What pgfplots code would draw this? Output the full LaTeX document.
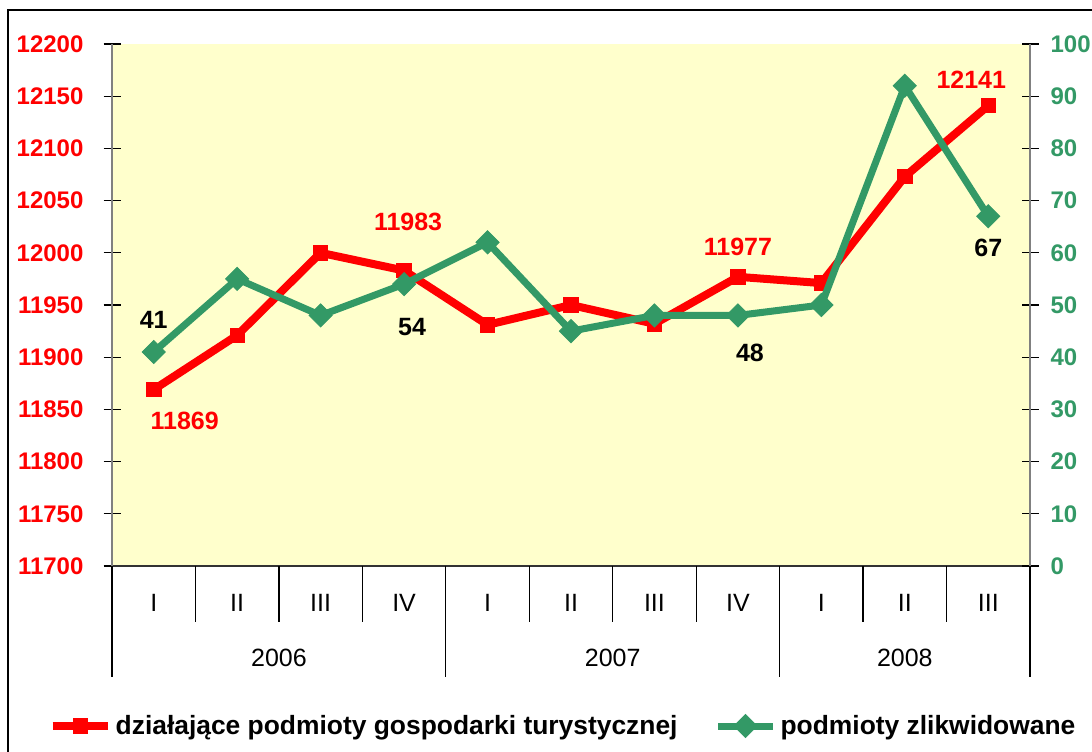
\documentclass[border=0pt]{standalone}
\usepackage{pgfplots}
\pgfplotsset{compat=1.18}
\usepackage{pgfplotstable}
\usepackage{fontspec}
\setmainfont{Liberation Sans}

\definecolor{serred}{HTML}{FF0000}
\definecolor{sergreen}{HTML}{339966}
\definecolor{plotbg}{HTML}{FFFFCC}
\definecolor{axgray}{HTML}{808080}

% quarters 2006 I .. 2008 III, plotted at 0.5, 1.5, ...
\pgfplotstableread{
x    y
0.5  11869
1.5  11921
2.5  12000
3.5  11983
4.5  11931
5.5  11950
6.5  11932
7.5  11977
8.5  11971
9.5  12073
10.5 12141
}\dzialajace

\pgfplotstableread{
x    y
0.5  41
1.5  55
2.5  48
3.5  54
4.5  62
5.5  45
6.5  48
7.5  48
8.5  50
9.5  92
10.5 67
}\zlikwidowane

\newcommand{\tickfont}{\bfseries\fontsize{12}{14}\selectfont}
\newcommand{\lblfont}{\bfseries\fontsize{12.5}{14}\selectfont}
\newcommand{\catfont}{\fontsize{12.5}{14}\selectfont}
\newcommand{\legfont}{\bfseries\fontsize{13.2}{15}\selectfont}

\begin{document}
\begin{tikzpicture}
\useasboundingbox (0,0) rectangle (546pt,375.5pt);
% outer chart frame (cut at right and bottom)
\draw[black, line width=0.8pt] (4pt,-5pt) -- (4pt,370.5pt) -- (560pt,370.5pt);

\pgfplotsset{
  base/.style={
    at={(56pt,92.5pt)}, anchor=south west,
    scale only axis, width=459pt, height=261pt,
    xmin=0, xmax=11, clip=false,
    scaled y ticks=false,
    /pgf/number format/assume math mode=true,
    /pgf/number format/1000 sep={},
    /pgf/number format/fixed,
    tick align=center, major tick length=8.5pt,
    ytick style={black, line width=0.6pt},
    y axis line style={draw=axgray, line width=1pt, -},
  },
}

\begin{axis}[
  base,
  ymin=11700, ymax=12200,
  ytick={11700,11750,...,12200},
  axis background/.style={fill=plotbg},
  axis y line*=left, axis x line*=bottom,
  x axis line style={draw=black!80, line width=0.8pt, -},
  xtick=\empty,
  yticklabel style={text=serred, font=\tickfont, xshift=-6.5pt},
  legend style={at={(0.4924,-0.3065)}, anchor=center, draw=none, fill=none,
    font=\legfont, legend columns=2,
    /tikz/every even column/.append style={column sep=16.5pt}},
  legend cell align=left,
  legend image code/.code={%
    \draw[mark repeat=2, mark phase=2, #1] plot coordinates {(0pt,0pt) (13.75pt,0pt) (27.5pt,0pt)};},
]
\addplot[serred, line width=4pt, mark=square*, mark size=3.6pt,
  mark options={fill=serred, draw=serred, line width=0.4pt}] table[x=x, y=y] {\dzialajace};
\addlegendentry{działające podmioty gospodarki turystycznej}
\addlegendimage{sergreen, line width=3.5pt, mark=square*, mark size=4.1pt,
  mark options={fill=sergreen, draw=sergreen, line width=0.4pt, rotate=45}}
\addlegendentry{podmioty zlikwidowane}

% category separators
\pgfplotsinvokeforeach{0,...,11}{\draw[black, line width=0.6pt] (axis cs:#1,11700) -- ++(0pt,-28pt);}
\pgfplotsinvokeforeach{0,4,8,11}{\draw[black, line width=0.6pt] (axis cs:#1,11700) -- ++(0pt,-55.5pt);}
% quarter labels
\node[font=\catfont] at (axis cs:0.5,11700) [yshift=-18.5pt] {I};
\node[font=\catfont] at (axis cs:1.5,11700) [yshift=-18.5pt] {II};
\node[font=\catfont] at (axis cs:2.5,11700) [yshift=-18.5pt] {III};
\node[font=\catfont] at (axis cs:3.5,11700) [yshift=-18.5pt] {IV};
\node[font=\catfont] at (axis cs:4.5,11700) [yshift=-18.5pt] {I};
\node[font=\catfont] at (axis cs:5.5,11700) [yshift=-18.5pt] {II};
\node[font=\catfont] at (axis cs:6.5,11700) [yshift=-18.5pt] {III};
\node[font=\catfont] at (axis cs:7.5,11700) [yshift=-18.5pt] {IV};
\node[font=\catfont] at (axis cs:8.5,11700) [yshift=-18.5pt] {I};
\node[font=\catfont] at (axis cs:9.5,11700) [yshift=-18.5pt] {II};
\node[font=\catfont] at (axis cs:10.5,11700) [yshift=-18.5pt] {III};
\node[font=\catfont] at (axis cs:2,11700) [yshift=-46pt] {2006};
\node[font=\catfont] at (axis cs:6,11700) [yshift=-46pt] {2007};
\node[font=\catfont] at (axis cs:9.5,11700) [yshift=-46pt] {2008};

% data labels
\node[text=serred, font=\lblfont] at (axis cs:0.5,11869) [xshift=15.5pt, yshift=-15.5pt] {11869};
\node[text=serred, font=\lblfont] at (axis cs:3.5,11983) [xshift=2pt, yshift=24.5pt] {11983};
\node[text=serred, font=\lblfont] at (axis cs:7.5,11977) [xshift=0pt, yshift=15pt] {11977};
\node[text=serred, font=\lblfont] at (axis cs:10.5,12141) [xshift=-8.5pt, yshift=12.8pt] {12141};
\end{axis}

\begin{axis}[
  base,
  ymin=0, ymax=100,
  ytick={0,10,...,100},
  axis y line*=right, axis x line=none,
  yticklabel style={text=sergreen, font=\tickfont, xshift=2.5pt},
]
\addplot[sergreen, line width=3.5pt, mark=square*, mark size=4.1pt,
  mark options={fill=sergreen, draw=sergreen, line width=0.4pt, rotate=45}] table[x=x, y=y] {\zlikwidowane};

\node[font=\lblfont] at (axis cs:0.5,41) [yshift=16pt] {41};
\node[font=\lblfont] at (axis cs:3.5,54) [xshift=4pt, yshift=-21.5pt] {54};
\node[font=\lblfont] at (axis cs:7.5,48) [xshift=6pt, yshift=-18.5pt] {48};
\node[font=\lblfont] at (axis cs:10.5,67) [yshift=-16pt] {67};
\end{axis}
\end{tikzpicture}
\end{document}
